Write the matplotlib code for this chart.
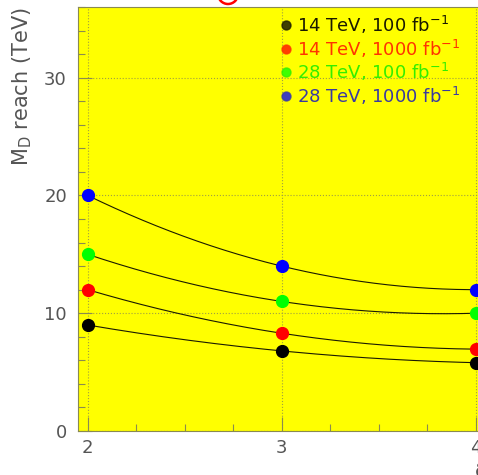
import numpy as np
import matplotlib
matplotlib.use("Agg")
import matplotlib.pyplot as plt
from matplotlib.patches import Ellipse
from matplotlib.ticker import MultipleLocator

# number of extra dimensions and M_D reach for each scenario
n_dims = [2, 3, 4]
reach_14_100 = [9.0, 6.8, 5.8]
reach_14_1000 = [12.0, 8.3, 6.95]
reach_28_100 = [15.0, 11.0, 10.0]
reach_28_1000 = [20.0, 14.0, 12.0]

labels = [r"14 TeV, 100 fb$^{-1}$", r"14 TeV, 1000 fb$^{-1}$",
          r"28 TeV, 100 fb$^{-1}$", r"28 TeV, 1000 fb$^{-1}$"]
point_colors = ["#000000", "#ff0000", "#00ff00", "#0000ff"]
text_colors = ["#1a1a00", "#ff3300", "#33ee00", "#3a3aa0"]

fig = plt.figure(figsize=(4.78, 4.75), dpi=100)
ax = fig.add_axes([78 / 478, 44 / 475, 407.4 / 478, 424 / 475])
ax.set_facecolor("#ffff00")

xs = np.linspace(2, 4, 200)
series = [reach_14_100, reach_14_1000, reach_28_100, reach_28_1000]
for vals, pc in zip(series, point_colors):
    coef = np.polyfit(n_dims, vals, 2)
    ax.plot(xs, np.polyval(coef, xs), color="#1a1a00", lw=0.8, zorder=2)
    ax.plot(n_dims, vals, "o", color=pc, ms=8.5, mec=pc, zorder=3, clip_on=False)

ax.set_xlim(1.95, 4.05)
ax.set_ylim(0, 36)
ax.xaxis.set_major_locator(MultipleLocator(1))
ax.xaxis.set_minor_locator(MultipleLocator(0.25))
ax.yaxis.set_major_locator(MultipleLocator(10))
ax.yaxis.set_minor_locator(MultipleLocator(2))
ax.tick_params(which="both", direction="in", colors="#8a8a50", labelcolor="#555555",
               labelsize=13)
ax.tick_params(which="major", length=10, width=0.8)
ax.tick_params(which="minor", length=5, width=0.8)
ax.tick_params(axis="x", pad=6)
ax.tick_params(axis="y", pad=8)
ax.grid(True, which="major", color="#a0a040", linestyle=":", linewidth=0.8)
for s in ax.spines.values():
    s.set_color("#8a8a50")
    s.set_linewidth(0.8)

ax.set_ylabel(r"M$_{\rm D}$ reach (TeV)", fontsize=15, color="#555555",
              loc="top", labelpad=7)

# legend drawn as marker + coloured text rows
for i, (lab, pc, tc) in enumerate(zip(labels, point_colors, text_colors)):
    y = 1 - (18 + 23.5 * i) / 424
    ax.plot([(286 - 78) / 407.4], [y], "o", transform=ax.transAxes, ms=6.5,
            color=pc, mec=tc, mew=1.0, alpha=0.75, clip_on=False)
    ax.text((297 - 78) / 407.4, y, lab, transform=ax.transAxes, color=tc,
            fontsize=13, va="center", ha="left")

# partial x-axis title and the red ring above the frame
fig.text(475 / 478, -6 / 475, "δ", color="#555555", fontsize=14, ha="left", va="bottom")
fig.add_artist(Ellipse((228 / 478, 481 / 475), 20 / 478, 20 / 475,
                       transform=fig.transFigure, fill=False, ec="#ff0000", lw=1.8))

fig.savefig("out.png", dpi=100)
